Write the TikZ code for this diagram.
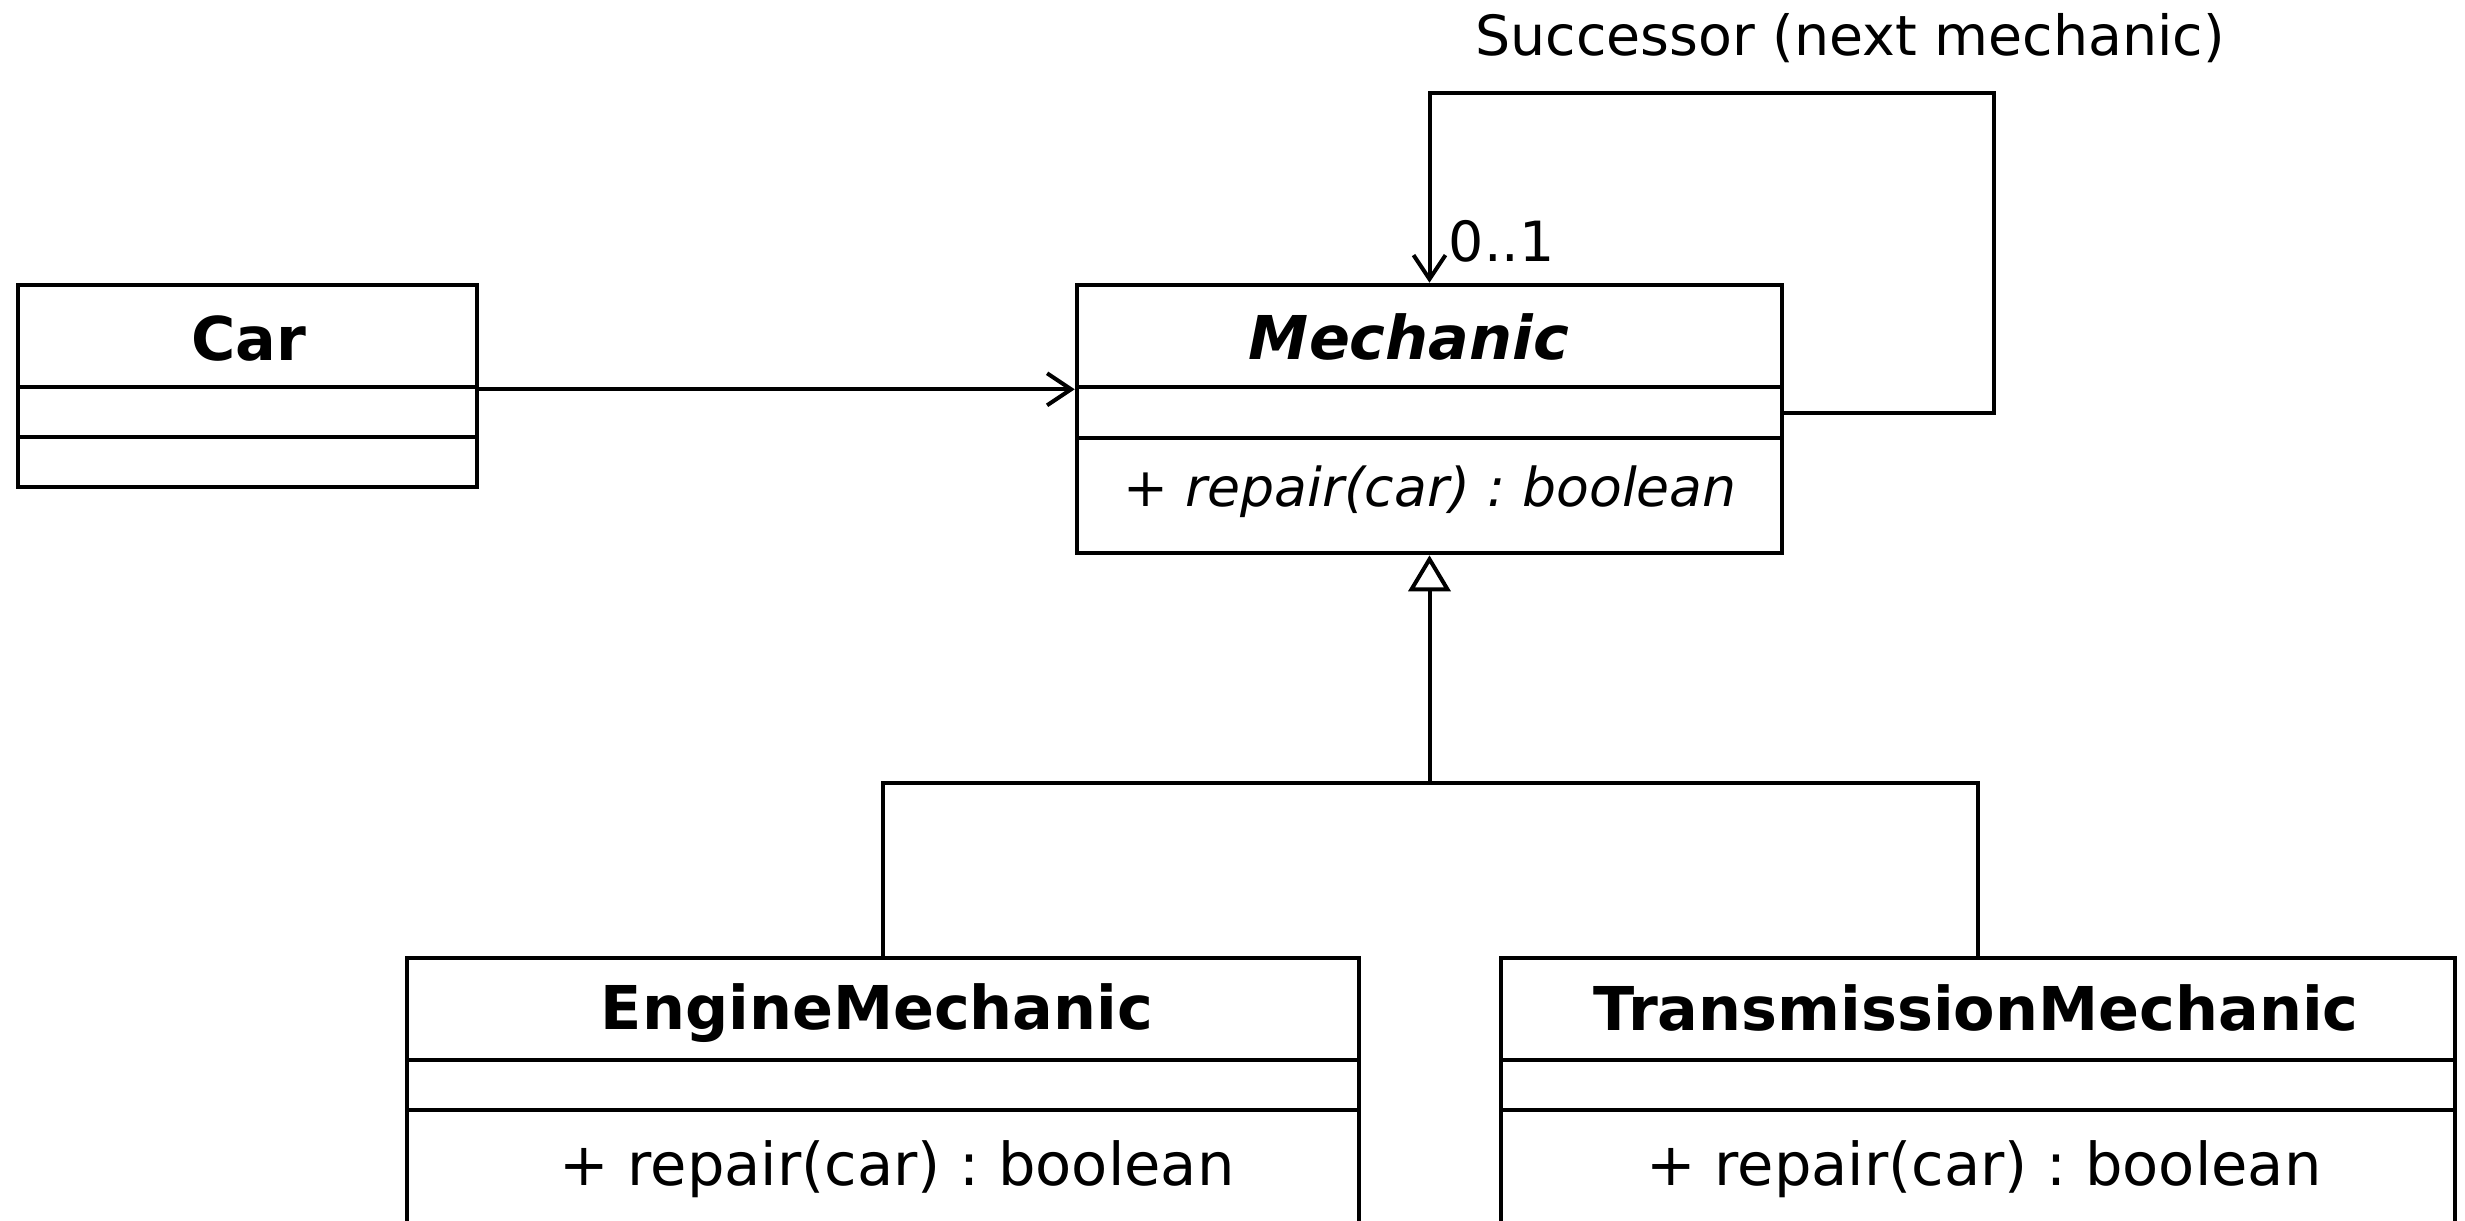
\documentclass[tikz,border=0pt]{standalone}
\usepackage{fontspec}
\setmainfont{DejaVu Sans}
\frenchspacing
\usetikzlibrary{arrows.meta,fit}
\begin{document}
\begin{tikzpicture}[x=0.25pt,y=-0.25pt,
  compart/.style={draw, line width=1.15pt, inner sep=0pt, fit={#1}},
  classtitle/.style={font=\fontsize{15.1pt}{18pt}\selectfont\bfseries, inner sep=0pt, anchor=base},
  member/.style={font=\fontsize{14.78pt}{18pt}\selectfont, inner sep=0pt, anchor=base},
  absmember/.style={font=\fontsize{13.4pt}{16pt}\selectfont\itshape, inner sep=0pt, anchor=base},
  rolelabel/.style={font=\fontsize{13.85pt}{16pt}\selectfont, inner sep=0pt},
  assoc/.style={line width=1pt, -{Straight Barb[length=6pt,width=8pt]}},
  gen/.style={line width=1pt, -{Triangle[open, length=9pt, width=10.5pt]}},
  plain/.style={line width=1pt}]
\useasboundingbox (0,0) rectangle (2465,1221);
\clip (0,0) rectangle (2465,1221);

% Car
\node[compart={(18,285) (477,387)}] (car-name) {};
\node[compart={(18,387) (477,437)}] (car-attr) {};
\node[compart={(18,437) (477,487)}] (car-ops) {};
\node[classtitle] (car-title) at (249,360) {Car};

% Mechanic (abstract)
\node[compart={(1077,285) (1782,387)}] (mech-name) {};
\node[compart={(1077,387) (1782,438)}] (mech-attr) {};
\node[compart={(1077,438) (1782,553)}] (mech-ops) {};
\node[classtitle, font=\fontsize{15.1pt}{18pt}\selectfont\bfseries\itshape] (mech-title) at (1409,359) {Mechanic};
\node[absmember] (mech-op) at (1430,506) {+ repair(car) : boolean};

% EngineMechanic
\node[compart={(407,958) (1359,1060)}] (eng-name) {};
\node[compart={(407,1060) (1359,1110)}] (eng-attr) {};
\node[compart={(407,1110) (1359,1320)}] (eng-ops) {};
\node[classtitle] (eng-title) at (877,1029) {EngineMechanic};
\node[member] (eng-op) at (897,1185) {+ repair(car) : boolean};

% TransmissionMechanic
\node[compart={(1501,958) (2455,1060)}] (trans-name) {};
\node[compart={(1501,1060) (2455,1110)}] (trans-attr) {};
\node[compart={(1501,1110) (2455,1320)}] (trans-ops) {};
\node[classtitle] (trans-title) at (1976,1030) {TransmissionMechanic};
\node[member] (trans-op) at (1984,1185) {+ repair(car) : boolean};

% Car uses a Mechanic
\draw[assoc] (car-name.south east) -- (mech-name.south west);

% Chain of responsibility: successor link
\coordinate (loop-corner) at (1994,93);
\draw[assoc] (mech-attr.east) -| (loop-corner) -| (mech-name.north);
\node[rolelabel, anchor=base] (succ-label) at (1850,55) {Successor (next mechanic)};
\node[rolelabel, anchor=base west] (mult-label) at (1448,261) {0..1};

% Generalization
\path (mech-ops.south) ++(0,228) coordinate (junction);
\draw[gen] (junction) -- (mech-ops.south);
\draw[plain] (eng-name.north) |- (junction) -| (trans-name.north);
\end{tikzpicture}
\end{document}
